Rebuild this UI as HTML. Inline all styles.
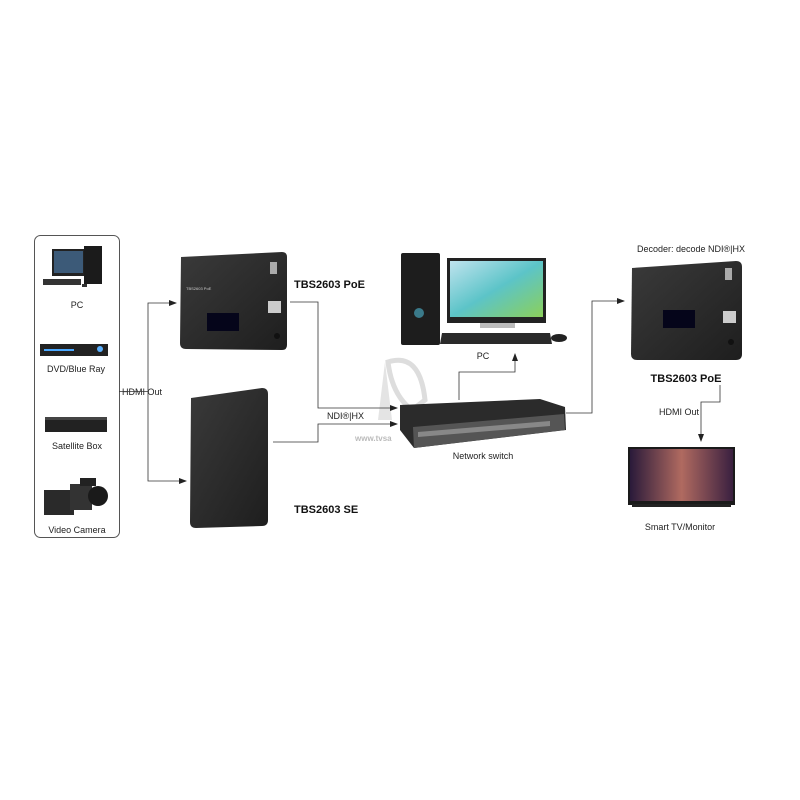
<!DOCTYPE html>
<html><head><meta charset="utf-8"><style>
html,body{margin:0;padding:0;background:#fff;}
svg{display:block;font-family:"Liberation Sans","DejaVu Sans",sans-serif;}
</style></head><body>
<svg width="800" height="800" viewBox="0 0 800 800" xmlns="http://www.w3.org/2000/svg">
<defs>
<marker id="ar" markerWidth="8" markerHeight="8" refX="7" refY="4" orient="auto" markerUnits="userSpaceOnUse">
<path d="M0,1 L8,4 L0,7 Z" fill="#222"/></marker>
<linearGradient id="dev" x1="0" y1="0" x2="1" y2="1"><stop offset="0" stop-color="#3a3a3a"/><stop offset="1" stop-color="#1e1e1e"/></linearGradient>
<linearGradient id="scr" x1="0" y1="0" x2="1" y2="1"><stop offset="0" stop-color="#bfe3ee"/><stop offset="0.5" stop-color="#5cc4c8"/><stop offset="1" stop-color="#8bd05a"/></linearGradient>
<linearGradient id="tv" x1="0" y1="0" x2="1" y2="0"><stop offset="0" stop-color="#2a1a3a"/><stop offset="0.5" stop-color="#b06a60"/><stop offset="1" stop-color="#3a2040"/></linearGradient>
</defs>

<!-- watermark dish -->
<path d="M388,362 Q420,352 425,400 L412,410 Q392,395 388,362 Z" fill="none" stroke="#ddd" stroke-width="5"/>
<path d="M385,362 L378,420 L392,420 Z" fill="#e4e4e4"/>

<!-- left rounded box -->
<rect x="34.5" y="235.5" width="85" height="302" rx="6" fill="none" stroke="#555" stroke-width="1"/>
<rect x="52" y="249" width="33" height="27" fill="#222"/><rect x="54" y="251" width="29" height="22" fill="#3c5a78"/>
<rect x="84" y="246" width="18" height="38" fill="#1b1b1b"/>
<rect x="43" y="279" width="38" height="6" fill="#333"/><rect x="82" y="284" width="5" height="3" fill="#333"/>
<text x="77" y="308" font-size="9" text-anchor="middle" fill="#222">PC</text>
<rect x="40" y="344" width="68" height="12" fill="#222"/><rect x="44" y="349" width="30" height="2" fill="#4aa8ff"/><circle cx="100" cy="349" r="3" fill="#5ab0ff"/>
<text x="76" y="372" font-size="9" text-anchor="middle" fill="#222">DVD/Blue Ray</text>
<rect x="45" y="417" width="62" height="15" fill="#222"/><rect x="45" y="417" width="62" height="3" fill="#444"/>
<text x="77" y="449" font-size="9" text-anchor="middle" fill="#222">Satellite Box</text>
<rect x="44" y="490" width="30" height="25" fill="#2a2a2a"/><rect x="70" y="484" width="22" height="26" fill="#333"/>
<circle cx="98" cy="496" r="10" fill="#1a1a1a"/><rect x="80" y="478" width="16" height="8" fill="#222"/>
<text x="77" y="533" font-size="9" text-anchor="middle" fill="#222">Video Camera</text>

<text x="122" y="395" font-size="9" fill="#222">HDMI Out</text>
<path d="M119,391.5 H148 V303 H176" fill="none" stroke="#333" stroke-width="0.8" marker-end="url(#ar)"/>
<path d="M148,391.5 V481 H186" fill="none" stroke="#333" stroke-width="0.8" marker-end="url(#ar)"/>

<path d="M181,257 L282,252 Q287,252 287,257 L287,345 Q287,350 282,350 L186,349 Q180,349 180,343 Z" fill="url(#dev)"/>
<rect x="207" y="313" width="32" height="18" fill="#05051a"/>
<rect x="268" y="301" width="13" height="12" fill="#ccc"/>
<rect x="270" y="262" width="7" height="12" fill="#aaa"/>
<circle cx="277" cy="336" r="3" fill="#111"/>
<text x="186" y="290" font-size="4" fill="#ccc">TBS2603 PoE</text>
<text x="294" y="288" font-size="11" font-weight="bold" fill="#111">TBS2603 PoE</text>

<path d="M191,398 L262,388 Q268,388 268,394 L268,520 Q268,526 262,526 L196,528 Q190,528 190,522 Z" fill="url(#dev)"/>
<text x="294" y="513" font-size="11" font-weight="bold" fill="#111">TBS2603 SE</text>

<path d="M290,302 H318 V408 H397" fill="none" stroke="#333" stroke-width="0.8" marker-end="url(#ar)"/>
<path d="M273,442 H318 V424 H397" fill="none" stroke="#333" stroke-width="0.8" marker-end="url(#ar)"/>
<text x="327" y="419" font-size="9" fill="#222">NDI®|HX</text>
<text x="355" y="441" font-size="8" fill="#bbb" font-weight="bold">www.tvsa</text>

<rect x="401" y="253" width="39" height="92" rx="2" fill="#1d1d1d"/>
<circle cx="419" cy="313" r="5" fill="#3a7a8a"/>
<rect x="447" y="258" width="99" height="65" fill="#222"/><rect x="450" y="261" width="93" height="56" fill="url(#scr)"/>
<rect x="480" y="323" width="35" height="5" fill="#bbb"/>
<path d="M442,333 L550,333 L552,344 L440,344 Z" fill="#2a2a2a"/>
<ellipse cx="559" cy="338" rx="8" ry="4" fill="#222"/>
<text x="483" y="359" font-size="9" text-anchor="middle" fill="#222">PC</text>
<path d="M459,400 V372 H515 V354" fill="none" stroke="#333" stroke-width="0.8" marker-end="url(#ar)"/>

<path d="M400,405 L540,399 L565,407 L566,430 L414,448 L400,430 Z" fill="#2b2b2b"/>
<path d="M413,427 L564,414 L565,430 L414,448 Z" fill="#555"/>
<path d="M418,432 L550,421 L550,426 L418,437 Z" fill="#aaa" opacity="0.6"/>
<text x="483" y="459" font-size="9" text-anchor="middle" fill="#222">Network switch</text>
<path d="M566,413 H592 V301 H624" fill="none" stroke="#333" stroke-width="0.8" marker-end="url(#ar)"/>

<text x="637" y="252" font-size="9" fill="#222">Decoder:  decode NDI®|HX</text>
<path d="M632,268 L736,261 Q742,261 742,267 L742,354 Q742,360 736,360 L637,360 Q631,360 631,354 Z" fill="url(#dev)"/>
<rect x="663" y="310" width="32" height="18" fill="#05051a"/>
<rect x="723" y="311" width="13" height="12" fill="#ccc"/>
<rect x="725" y="268" width="7" height="12" fill="#aaa"/>
<circle cx="731" cy="342" r="3" fill="#111"/>
<text x="686" y="382" font-size="11" font-weight="bold" text-anchor="middle" fill="#111">TBS2603 PoE</text>
<path d="M720,385 V402 H701 V441" fill="none" stroke="#333" stroke-width="0.8" marker-end="url(#ar)"/>
<text x="659" y="415" font-size="9" fill="#222">HDMI Out</text>

<rect x="628" y="447" width="107" height="58" fill="#1a1a1a"/>
<rect x="630" y="449" width="103" height="52" fill="url(#tv)"/>
<rect x="632" y="504" width="99" height="3" fill="#222"/>
<text x="680" y="530" font-size="9" text-anchor="middle" fill="#222">Smart TV/Monitor</text>
</svg>
</body></html>
